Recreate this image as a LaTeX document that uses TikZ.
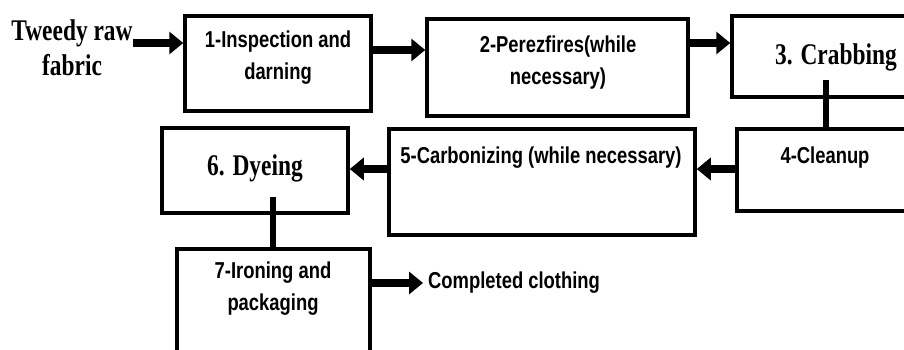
\documentclass[tikz,border=0pt]{standalone}
\usepackage{fontspec}
\newfontfamily\stepsans{Liberation Sans}[FakeStretch=0.8]
\newfontfamily\stepserif{Liberation Serif}[FakeStretch=0.78]
\usetikzlibrary{arrows.meta}
\tikzset{
  stepbox/.style={draw,line width=3.5pt,inner sep=0pt},
  flow/.style={line width=7.5pt,-{Triangle[length=14pt,width=22pt]}},
  link/.style={line width=6pt},
  sanstext/.style={font=\stepsans\bfseries\fontsize{23}{32}\selectfont,align=center,inner sep=0pt},
  seriftext/.style={font=\stepserif\bfseries\fontsize{30}{35}\selectfont,align=center,inner sep=0pt}
}
\begin{document}
\begin{tikzpicture}[x=1pt,y=-1pt]
  \useasboundingbox (0,0) rectangle (904,349);
  \clip (0,0) rectangle (904,349);

  \node[stepbox,minimum width=186pt,minimum height=95pt] (b1) at (278,63.5) {};
  \node[stepbox,minimum width=261pt,minimum height=97pt] (b2) at (557.5,67.5) {};
  \node[stepbox,minimum width=208pt,minimum height=81pt] (b3) at (836,56.5) {};
  \node[stepbox,minimum width=183pt,minimum height=82pt] (b4) at (828.5,170) {};
  \node[stepbox,minimum width=306pt,minimum height=106pt] (b5) at (542,182) {};
  \node[stepbox,minimum width=186pt,minimum height=85pt] (b6) at (255,170.5) {};
  \node[stepbox,minimum width=193pt,minimum height=111pt] (b7) at (273.5,304.5) {};

  \node[seriftext] (raw) at (72,48) {Tweedy raw\\fabric};
  \node[sanstext] (t1) at (278,58) {1-Inspection and\\darning};
  \node[sanstext] (t2) at (558,63) {2-Perezfires(while\\necessary)};
  \node[seriftext] (t3) at (836,57) {3. Crabbing};
  \node[sanstext] (t4) at (825,158) {4-Cleanup};
  \node[sanstext] (t5) at (541,158) {5-Carbonizing (while necessary)};
  \node[seriftext] (t6) at (255,168) {6. Dyeing};
  \node[sanstext] (t7) at (273,289) {7-Ironing and\\packaging};
  \node[sanstext,anchor=west] (done) at (428,283) {Completed clothing};

  \coordinate (crabtap) at (826,80);
  \coordinate (dyetap) at (273,197);

  \draw[flow] (raw.east |- 0,43) -- (b1.west |- 0,43);
  \draw[flow] (b1.east |- 0,50) -- (b2.west |- 0,50);
  \draw[flow] (b2.east |- 0,43) -- (b3.west |- 0,43);
  \draw[link] (crabtap) -- (crabtap |- b4.north);
  \draw[flow] (b4.west |- 0,169) -- (b5.east |- 0,169);
  \draw[flow] (b5.west |- 0,169) -- (b6.east |- 0,169);
  \draw[link] (dyetap) -- (dyetap |- b7.north);
  \draw[flow] (b7.east |- 0,283) -- ([xshift=-5pt]done.west);
\end{tikzpicture}
\end{document}
